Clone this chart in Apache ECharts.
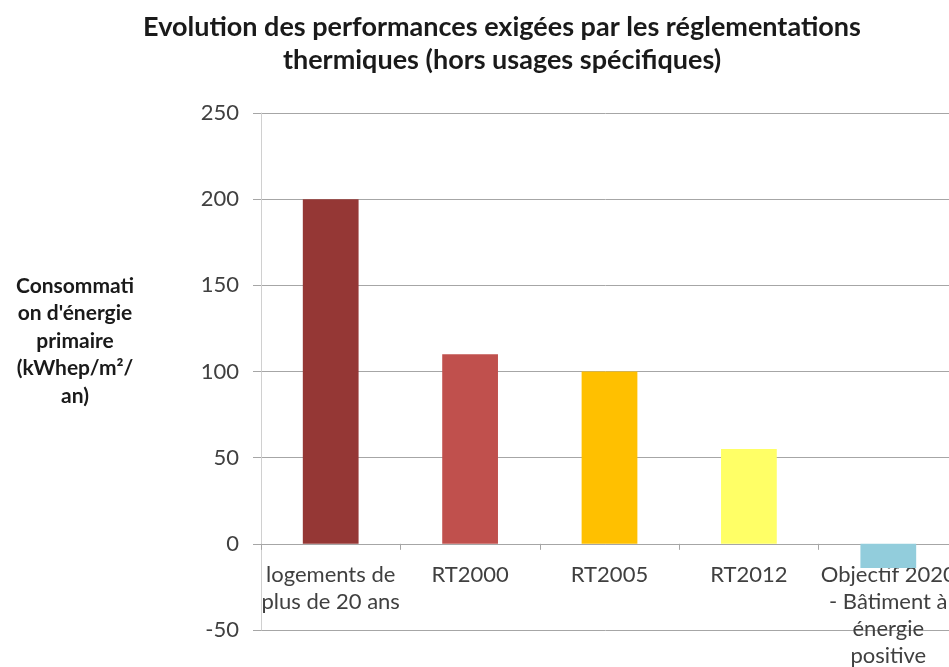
<!DOCTYPE html>
<html>
<head>
<meta charset="utf-8">
<script src="https://cdn.jsdelivr.net/npm/echarts@6/dist/echarts.min.js"></script>
<style>
  html, body { margin: 0; padding: 0; background: #fff; }
  #container { width: 949px; height: 667px; }
</style>
</head>
<body>
<div id="container"></div>
<script>
var categories = [
  'logements de\nplus de 20 ans',
  'RT2000',
  'RT2005',
  'RT2012',
  'Objectif 2020\n- Bâtiment à\nénergie\npositive'
];
var values = [200, 110, 100, 55, -14];
var barColors = ['#953735', '#c0504d', '#ffc000', '#ffff66', '#92cddc'];
var yTicks = { min: -50, max: 250, interval: 50 };

var font = 'Lato, "Open Sans", sans-serif';

var dom = document.getElementById('container');
var myChart = echarts.init(dom, null, { renderer: 'canvas' });

var option = {
  backgroundColor: '#fff',
  animation: false,
  title: {
    text: 'Evolution des performances exigées par les réglementations\nthermiques (hors usages spécifiques)',
    left: 497,
    top: 6,
    textAlign: 'center',
    textStyle: {
      fontFamily: font,
      fontWeight: 'bold',
      fontSize: 27,
      lineHeight: 33,
      color: '#1a1a1a'
    }
  },
  graphic: [
    {
      type: 'text',
      x: 75,
      y: 272,
      style: {
        text: 'Consommati\non d\'énergie\nprimaire\n(kWhep/m²/\nan)',
        font: 'bold 21px ' + font,
        lineHeight: 27.5,
        align: 'center',
        fill: '#1a1a1a'
      }
    }
  ],
  grid: {
    left: 261,
    right: -9,
    top: 113,
    bottom: 37,
    outerBoundsMode: 'none'
  },
  xAxis: {
    type: 'category',
    data: categories,
    axisLine: { onZero: true, lineStyle: { color: '#a6a6a6', width: 1 } },
    axisTick: { show: true, length: 6, lineStyle: { color: '#a6a6a6' } },
    axisLabel: {
      interval: 0,
      margin: -69,
      fontFamily: font,
      fontSize: 22,
      lineHeight: 27,
      color: '#404040'
    }
  },
  yAxis: {
    type: 'value',
    min: yTicks.min,
    max: yTicks.max,
    interval: yTicks.interval,
    axisLine: { show: true, lineStyle: { color: '#d0d0d0' } },
    axisTick: { show: true, length: 8, lineStyle: { color: '#a6a6a6' } },
    axisLabel: {
      margin: 22,
      fontFamily: font,
      fontSize: 22,
      color: '#404040'
    },
    splitLine: { show: true, lineStyle: { color: '#a6a6a6', width: 1 } }
  },
  series: [
    {
      type: 'bar',
      barWidth: '40%',
      data: values.map(function (v, i) {
        return { value: v, itemStyle: { color: barColors[i] } };
      })
    }
  ]
};

myChart.setOption(option);

window.addEventListener('resize', function () {
  myChart.resize();
});
</script>
</body>
</html>
